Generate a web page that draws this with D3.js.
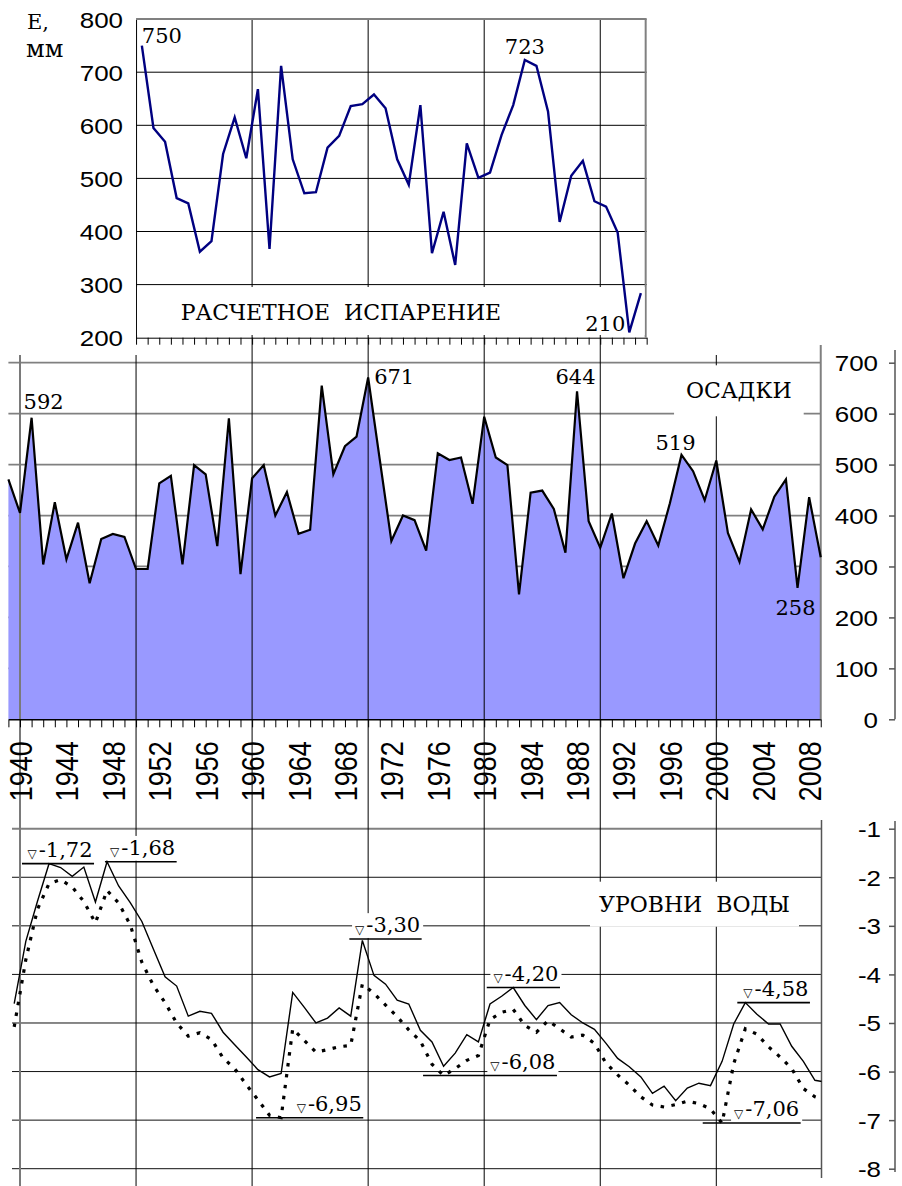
<!DOCTYPE html>
<html><head><meta charset="utf-8">
<script src="https://cdn.jsdelivr.net/npm/d3@7"></script>
<style>
html,body{margin:0;padding:0;background:#fff;}
svg{display:block;}
text{white-space:pre;}
</style></head><body>
<svg id="c" width="902" height="1186"></svg>
<script>
// ---------------- DATA ----------------
const evapYears = d3.range(1950, 1994);
const evapValues = [750,595,569,463,453,362,382,546,615,538,668,367,712,536,472,474,558,580,636,640,658,632,536,488,638,359,437,337,566,501,511,582,638,723,712,626,418,505,533,457,447,398,210,284];

const precipYears = d3.range(1939, 2010);
const precipValues = [471,405,592,304,426,314,386,267,354,364,358,295,295,463,478,304,499,481,340,591,285,473,499,400,446,364,372,655,481,536,555,671,510,350,400,391,331,522,509,514,423,594,514,499,245,445,449,413,327,644,389,337,404,277,345,389,341,424,519,487,430,508,366,309,412,373,437,471,258,436,318];

const levelYears = d3.range(1939, 2010);
const levelSolid = [-4.60,-3.32,-2.50,-1.72,-1.80,-1.98,-1.79,-2.51,-1.68,-2.18,-2.52,-2.91,-3.48,-4.05,-4.24,-4.86,-4.76,-4.80,-5.19,-5.45,-5.70,-5.96,-6.11,-6.04,-4.37,-4.68,-5.00,-4.90,-4.69,-4.86,-3.30,-4.02,-4.20,-4.53,-4.61,-5.15,-5.39,-5.89,-5.62,-5.24,-5.39,-4.61,-4.45,-4.27,-4.64,-4.93,-4.64,-4.58,-4.83,-5.00,-5.13,-5.42,-5.73,-5.90,-6.11,-6.45,-6.30,-6.60,-6.34,-6.24,-6.29,-5.79,-5.02,-4.58,-4.82,-5.02,-5.02,-5.48,-5.79,-6.18,-6.22];
const levelDotted = [-5.08,-3.70,-2.66,-2.13,-2.05,-2.20,-2.50,-2.94,-2.27,-2.53,-2.98,-3.75,-4.23,-4.58,-5.00,-5.27,-5.20,-5.34,-5.72,-5.94,-6.27,-6.58,-6.90,-6.95,-5.12,-5.36,-5.60,-5.55,-5.49,-5.46,-4.20,-4.39,-4.63,-4.87,-5.14,-5.37,-5.85,-6.08,-5.94,-5.77,-5.67,-4.93,-4.78,-4.72,-5.05,-5.19,-4.95,-5.12,-5.29,-5.25,-5.42,-5.83,-6.07,-6.28,-6.52,-6.69,-6.73,-6.68,-6.61,-6.66,-6.77,-7.06,-5.84,-5.12,-5.23,-5.49,-5.70,-5.94,-6.35,-6.52,-6.60];

const evapTicks = [200,300,400,500,600,700,800];
const precipTicks = [0,100,200,300,400,500,600,700];
const levelTicks = [-1,-2,-3,-4,-5,-6,-7,-8];
const yearLabels = d3.range(1940, 2009, 4);
const decadeYears = [1940,1950,1960,1970,1980,1990,2000];

const evapNotes = [{text:"750", year:1950},{text:"723", year:1983},{text:"210", year:1992}];
const precipNotes = [{text:"592", year:1941},{text:"671", year:1970},{text:"644", year:1988},{text:"519", year:1997},{text:"258", year:2007}];
const levelNotes = [
  {text:"-1,72", level:-1.72, from:1940.17, to:1946.38},
  {text:"-1,68", level:-1.68, from:1947.32, to:1953.50},
  {text:"-3,30", level:-3.27, from:1968.38, to:1974.61},
  {text:"-6,95", level:-6.95, from:1960.34, to:1969.58},
  {text:"-4,20", level:-4.27, from:1980.22, to:1986.53},
  {text:"-6,08", level:-6.08, from:1974.73, to:1986.27},
  {text:"-4,58", level:-4.58, from:2001.81, to:2008.07},
  {text:"-7,06", level:-7.06, from:1998.83, to:2007.27}
];
const titleEvap = "РАСЧЕТНОЕ  ИСПАРЕНИЕ";
const titlePrecip = "ОСАДКИ";
const titleLevel = "УРОВНИ  ВОДЫ";
const unitTop = "E,";
const unitBottom = "мм";

// -------------- placement (layout only) --------------
const evapNotePlace = [{anchor:"start",dx:0,dy:-3},{anchor:"middle",dx:0,dy:-6},{anchor:"end",dx:-4,dy:-1}];
const precipNotePlace = [{anchor:"start",dx:-8,dy:-8.5},{anchor:"start",dx:6,dy:7},{anchor:"middle",dx:-1.5,dy:-7},{anchor:"middle",dx:-6,dy:-5},{anchor:"middle",dx:-2,dy:27}];

const SERIF = "'DejaVu Serif', serif";
const SANS = "'Liberation Sans', Arial, sans-serif";
const XS = 1.18; // horizontal stretch of sans labels

// ---------------- SCALES ----------------
const x = d3.scaleLinear().domain([1940, 2000]).range([20, 716.3]);
const xTop = d3.scaleLinear().domain([1950, 1994]).range([x(1950), x(1994)]);
const xMid = d3.scaleLinear().domain([1939, 2009]).range([x(1939), x(2009)]);
const yE = d3.scaleLinear().domain([200, 800]).range([337.7, 19.1]);
const yP = d3.scaleLinear().domain([0, 700]).range([719.3, 362.7]);
const yL = d3.scaleLinear().domain([-1, -8]).range([828.7, 1168.7]);
const botLeft = 12, botRight = 821.5;

const svg = d3.select("#c");
svg.append("defs").append("clipPath").attr("id","clipL")
  .append("rect").attr("x",botLeft).attr("y",800).attr("width",botRight-botLeft).attr("height",386);

const gGrid = svg.append("g");
const gArea = svg.append("g");
const gVert = svg.append("g");
const gAxes = svg.append("g");
const gBox = svg.append("g");
const gData = svg.append("g");
const gText = svg.append("g");

// ---------- horizontal gridlines ----------
gGrid.selectAll(".ge").data(evapTicks.filter(v => v > 200 && v < 800)).join("line")
  .attr("x1", xTop(1950)).attr("x2", xTop(1994)).attr("y1", d => yE(d)).attr("y2", d => yE(d))
  .attr("stroke", "#000").attr("stroke-width", 1);
gGrid.selectAll(".gp").data(precipTicks.filter(v => v > 0)).join("line")
  .attr("x1", xMid(1939)).attr("x2", xMid(2009)).attr("y1", d => yP(d)).attr("y2", d => yP(d))
  .attr("stroke", "#808080").attr("stroke-width", 1.8);
gGrid.selectAll(".gl").data(levelTicks).join("line")
  .attr("x1", botLeft).attr("x2", botRight).attr("y1", d => yL(d)).attr("y2", d => yL(d))
  .attr("stroke", d => d === -1 ? "#808080" : "#111").attr("stroke-width", d => d === -1 ? 2 : 1);

// ---------- precipitation area ----------
const pData = precipYears.map((yr, i) => ({yr, v: precipValues[i]}));
gArea.append("path").datum(pData)
  .attr("d", d3.area().x(d => xMid(d.yr)).y0(yP(0)).y1(d => yP(d.v)))
  .attr("fill", "#9999FF");

// ---------- vertical decade lines ----------
gVert.selectAll("line").data(decadeYears).join("line")
  .attr("x1", d => x(d)).attr("x2", d => x(d))
  .attr("y1", d => (d >= 1960 && d <= 1990) ? yE(800) : 355).attr("y2", 1186)
  .attr("stroke", d => d === 1940 ? "#7a7a7a" : "#000")
  .attr("stroke-width", d => d === 1940 ? 2 : 1);

// ---------- axes ----------
gAxes.append("g").attr("transform", `translate(0,${yE(200)})`)
  .call(d3.axisBottom(xTop).tickValues(d3.range(1950, 1995)).tickSize(7).tickSizeOuter(0).tickFormat(""));
const axTopL = gAxes.append("g").attr("transform", `translate(${xTop(1950)},0)`)
  .call(d3.axisLeft(yE).tickValues(evapTicks).tickSize(0).tickSizeOuter(0).tickPadding(0));
axTopL.selectAll("text").attr("x", null).attr("dy", "0.36em")
  .attr("transform", `translate(-13,0) scale(${XS},1)`)
  .style("font-family", SANS).style("font-size", "22px").attr("fill", "#000");
gAxes.append("line").attr("x1", xTop(1950)).attr("x2", xTop(1994)).attr("y1", yE(800)).attr("y2", yE(800))
  .attr("stroke", "#808080").attr("stroke-width", 2);
gAxes.append("line").attr("x1", xTop(1994) - 1).attr("x2", xTop(1994) - 1).attr("y1", yE(800)).attr("y2", yE(200))
  .attr("stroke", "#808080").attr("stroke-width", 2);

gAxes.append("g").attr("transform", `translate(0,${yP(0)})`)
  .call(d3.axisBottom(xMid).tickValues(precipYears).tickSize(8).tickSizeOuter(0).tickFormat(""))
  .select(".domain").attr("stroke-width", 1.5);
const axYears = gAxes.append("g").attr("transform", `translate(0,${yP(0)})`)
  .call(d3.axisBottom(x).tickValues(yearLabels).tickSize(0).tickFormat(d => String(d)));
axYears.select(".domain").remove();
axYears.selectAll("text").attr("x", 0).attr("y", 0).attr("dy", "0.36em")
  .attr("text-anchor", "end")
  .attr("transform", `translate(0,22) scale(${XS},1) rotate(-90)`)
  .style("font-family", SANS).style("font-size", "27px").attr("fill", "#000");

gAxes.append("line").attr("x1", xMid(2009)).attr("x2", xMid(2009)).attr("y1", 345).attr("y2", yP(0))
  .attr("stroke", "#808080").attr("stroke-width", 2);
const axPR = gAxes.append("g").attr("transform", "translate(895,0)")
  .call(d3.axisLeft(yP).tickValues(precipTicks).tickSize(6).tickSizeOuter(0).tickPadding(0));
axPR.select(".domain").attr("d", `M0,350V${yP(0)}`).attr("stroke", "#555").attr("stroke-width", 1.5);
axPR.selectAll("line").attr("stroke", "#555").attr("stroke-width", 1.5);
axPR.selectAll("text").attr("x", null).attr("dy", "0.36em")
  .attr("transform", `translate(-17,0) scale(${XS},1)`)
  .style("font-family", SANS).style("font-size", "22px").attr("fill", "#000");

gAxes.append("line").attr("x1", botRight).attr("x2", botRight).attr("y1", 820).attr("y2", 1178)
  .attr("stroke", "#555").attr("stroke-width", 1.5);
const axLR = gAxes.append("g").attr("transform", "translate(895,0)")
  .call(d3.axisLeft(yL).tickValues(levelTicks).tickSize(6).tickSizeOuter(0).tickPadding(0)
    .tickFormat(d => String(d)));
axLR.select(".domain").attr("d", `M0,821V1172`).attr("stroke", "#555").attr("stroke-width", 1.5);
axLR.selectAll("line").attr("stroke", "#555").attr("stroke-width", 1.5);
axLR.selectAll("text").attr("x", null).attr("dy", "0.36em")
  .attr("transform", `translate(-14,0) scale(${XS},1)`)
  .style("font-family", SANS).style("font-size", "22px").attr("fill", "#000");

// ---------- titles (with white boxes) ----------
gBox.append("rect").attr("x", xTop(1950) + 1).attr("y", 287).attr("width", xTop(1994) - xTop(1950) - 3).attr("height", 48)
  .attr("fill", "#fff");
gText.append("text").attr("x", 180.7).attr("y", 320).text(titleEvap)
  .style("font-family", SERIF).style("font-size", "22px");
const tPrec = gText.append("text").attr("x", 791.7).attr("y", 398.3).attr("text-anchor", "end").text(titlePrecip)
  .style("font-family", SERIF).style("font-size", "22px");
const tLev = gText.append("text").attr("x", 790).attr("y", 911.7).attr("text-anchor", "end").text(titleLevel)
  .style("font-family", SERIF).style("font-size", "22px");
[[tPrec, 12, 13], [tLev, 9, 10]].forEach(([t, px, py]) => {
  const b = t.node().getBBox();
  gBox.append("rect").attr("x", b.x - px).attr("y", b.y - py).attr("width", b.width + 2 * px).attr("height", b.height + 2 * py)
    .attr("fill", "#fff");
});

gText.append("text").attr("x", 27).attr("y", 28.5).text(unitTop).style("font-family", SERIF).style("font-size", "21px");
gText.append("text").attr("x", 26).attr("y", 56.5).text(unitBottom).style("font-family", SERIF).style("font-size", "24px");

// ---------- data lines ----------
gData.append("path").datum(evapYears.map((yr, i) => ({yr, v: evapValues[i]})))
  .attr("d", d3.line().x(d => xTop(d.yr + 0.5)).y(d => yE(d.v)))
  .attr("fill", "none").attr("stroke", "#000080").attr("stroke-width", 2.4);

gData.append("path").datum(pData)
  .attr("d", d3.line().x(d => xMid(d.yr)).y(d => yP(d.v)))
  .attr("fill", "none").attr("stroke", "#000").attr("stroke-width", 2.2);

const lvl = levelYears.map((yr, i) => ({yr, s: levelSolid[i], d: levelDotted[i]}));
const gLvl = gData.append("g").attr("clip-path", "url(#clipL)");
gLvl.append("path").datum(lvl)
  .attr("d", d3.line().x(d => x(d.yr + 0.5)).y(d => yL(d.d)))
  .attr("fill", "none").attr("stroke", "#000").attr("stroke-width", 3.2)
  .attr("stroke-dasharray", "3.5,7.5");
gLvl.append("path").datum(lvl)
  .attr("d", d3.line().x(d => x(d.yr + 0.5)).y(d => yL(d.s)))
  .attr("fill", "none").attr("stroke", "#000").attr("stroke-width", 1.4);

// ---------- value notes ----------
evapNotes.forEach((n, i) => {
  const p = evapNotePlace[i];
  const v = evapValues[evapYears.indexOf(n.year)];
  gText.append("text").attr("x", xTop(n.year + 0.5) + p.dx).attr("y", yE(v) + p.dy)
    .attr("text-anchor", p.anchor).text(n.text)
    .style("font-family", SERIF).style("font-size", "21px");
});
precipNotes.forEach((n, i) => {
  const p = precipNotePlace[i];
  const v = precipValues[precipYears.indexOf(n.year)];
  gText.append("text").attr("x", xMid(n.year) + p.dx).attr("y", yP(v) + p.dy)
    .attr("text-anchor", p.anchor).text(n.text)
    .style("font-family", SERIF).style("font-size", "21px");
});
levelNotes.forEach(n => {
  const yl = yL(n.level);
  const t = gText.append("text").attr("x", x(n.to) - 1.5).attr("y", yl - 6.8).attr("text-anchor", "end")
    .style("font-family", SERIF);
  t.append("tspan").text("▽").style("font-size", "12px").attr("dy", 1.5);
  t.append("tspan").text(n.text).style("font-size", "21px").attr("dx", 2).attr("dy", -1.5);
  const b = t.node().getBBox();
  gBox.append("rect").attr("x", b.x - 3).attr("y", b.y).attr("width", b.width + 6).attr("height", yl - b.y - 1)
    .attr("fill", "#fff");
  gText.append("line").attr("x1", x(n.from)).attr("x2", x(n.to)).attr("y1", yl).attr("y2", yl)
    .attr("stroke", "#000").attr("stroke-width", 1.6);
});
</script>
</body></html>
